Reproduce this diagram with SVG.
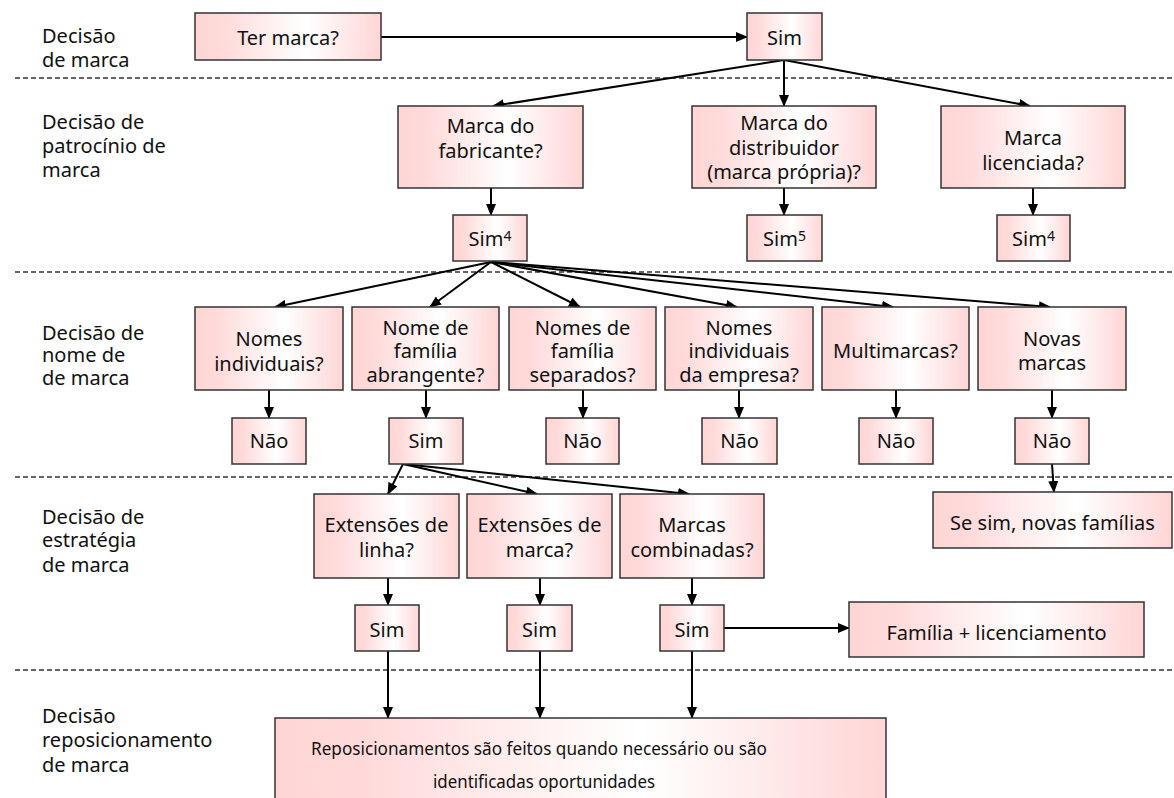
<svg xmlns="http://www.w3.org/2000/svg" width="1174" height="798" viewBox="0 0 1174 798">
<defs>
<linearGradient id="g" x1="0" y1="0" x2="1" y2="0">
<stop offset="0" stop-color="#FFD5D5"/>
<stop offset="0.15" stop-color="#FFDADA"/>
<stop offset="0.6" stop-color="#FFFFFF"/>
<stop offset="1" stop-color="#FFD5D5"/>
</linearGradient>
<marker id="a" markerWidth="12" markerHeight="10" refX="11" refY="5" orient="auto" markerUnits="userSpaceOnUse">
<path d="M0,0 L12,5 L0,10 Z" fill="#000"/>
</marker>
<style>
.b{fill:url(#g);stroke:#333;stroke-width:1.5}
.t{font-family:"Noto Sans","DejaVu Sans",sans-serif;font-size:20px;fill:#111;text-anchor:middle}
.l{font-family:"Noto Sans","DejaVu Sans",sans-serif;font-size:20px;fill:#111}
.r{font-size:17.3px}
.d{stroke:#333;stroke-width:1.5;stroke-dasharray:5 3;fill:none}
.c{stroke:#000;stroke-width:2;fill:none;marker-end:url(#a)}
.s{font-size:14px}
</style>
</defs>
<rect width="1174" height="798" fill="#fff"/>
<g id="separators">
<line class="d" x1="15" y1="78" x2="1174" y2="78"/>
<line class="d" x1="15" y1="272" x2="1174" y2="272"/>
<line class="d" x1="15" y1="477" x2="1174" y2="477"/>
<line class="d" x1="15" y1="670" x2="1174" y2="670"/>
</g>
<g id="labels">
<text class="l" x="42" y="43">Decisão</text>
<text class="l" x="42" y="67">de marca</text>
<text class="l" x="42" y="129">Decisão de</text>
<text class="l" x="42" y="153">patrocínio de</text>
<text class="l" x="42" y="177">marca</text>
<text class="l" x="42" y="340">Decisão de</text>
<text class="l" x="42" y="362">nome de</text>
<text class="l" x="42" y="385">de marca</text>
<text class="l" x="42" y="524">Decisão de</text>
<text class="l" x="42" y="547">estratégia</text>
<text class="l" x="42" y="572">de marca</text>
<text class="l" x="42" y="723">Decisão</text>
<text class="l" x="42" y="747">reposicionamento</text>
<text class="l" x="42" y="772">de marca</text>
</g>
<g id="connectors">
<line class="c" x1="381" y1="37" x2="747" y2="37"/>
<line class="c" x1="784" y1="60" x2="493" y2="106"/>
<line class="c" x1="784" y1="60" x2="784" y2="106"/>
<line class="c" x1="784" y1="60" x2="1030" y2="106"/>
<line class="c" x1="491" y1="188" x2="491" y2="215"/>
<line class="c" x1="784" y1="188" x2="784" y2="215"/>
<line class="c" x1="1033" y1="188" x2="1033" y2="215"/>
<line class="c" x1="491" y1="262" x2="275" y2="307"/>
<line class="c" x1="491" y1="262" x2="430" y2="307"/>
<line class="c" x1="491" y1="262" x2="580" y2="307"/>
<line class="c" x1="491" y1="262" x2="737" y2="307"/>
<line class="c" x1="491" y1="262" x2="893" y2="307"/>
<line class="c" x1="491" y1="262" x2="1050" y2="307"/>
<line class="c" x1="269" y1="390" x2="269" y2="418"/>
<line class="c" x1="426" y1="390" x2="426" y2="418"/>
<line class="c" x1="583" y1="390" x2="583" y2="418"/>
<line class="c" x1="739" y1="390" x2="739" y2="418"/>
<line class="c" x1="896" y1="390" x2="896" y2="418"/>
<line class="c" x1="1052" y1="390" x2="1052" y2="418"/>
<line class="c" x1="1052" y1="464" x2="1054" y2="492"/>
<line class="c" x1="403" y1="464" x2="388" y2="494"/>
<line class="c" x1="403" y1="464" x2="537" y2="494"/>
<line class="c" x1="403" y1="464" x2="689" y2="494"/>
<line class="c" x1="388" y1="578" x2="388" y2="605"/>
<line class="c" x1="540" y1="578" x2="540" y2="605"/>
<line class="c" x1="692" y1="578" x2="692" y2="605"/>
<line class="c" x1="724" y1="628" x2="849" y2="628"/>
<line class="c" x1="388" y1="651" x2="388" y2="718"/>
<line class="c" x1="540" y1="651" x2="540" y2="718"/>
<line class="c" x1="692" y1="651" x2="692" y2="718"/>
</g>
<g id="ter-marca"><rect class="b" x="195" y="13" width="186" height="47"/><text class="t" x="288" y="45">Ter marca?</text></g>
<g id="sim-top"><rect class="b" x="747" y="13" width="75" height="47"/><text class="t" x="784.5" y="45">Sim</text></g>
<g id="fabricante"><rect class="b" x="398" y="106" width="185" height="82"/><text class="t" x="490.5" y="133">Marca do</text><text class="t" x="490.5" y="158">fabricante?</text></g>
<g id="distribuidor"><rect class="b" x="692" y="106" width="184" height="82"/><text class="t" x="784" y="130">Marca do</text><text class="t" x="784" y="155">distribuidor</text><text class="t" x="784" y="179">(marca própria)?</text></g>
<g id="licenciada"><rect class="b" x="941" y="106" width="184" height="82"/><text class="t" x="1033" y="145">Marca</text><text class="t" x="1033" y="170">licenciada?</text></g>
<g id="sim-fabricante"><rect class="b" x="453" y="215" width="74" height="46"/><text class="t" x="490" y="246">Sim<tspan class="s" dy="-5">4</tspan></text></g>
<g id="sim-distribuidor"><rect class="b" x="747" y="215" width="75" height="46"/><text class="t" x="784.5" y="246">Sim<tspan class="s" dy="-5">5</tspan></text></g>
<g id="sim-licenciada"><rect class="b" x="997" y="215" width="73" height="46"/><text class="t" x="1033.5" y="246">Sim<tspan class="s" dy="-5">4</tspan></text></g>
<g id="nomes-individuais"><rect class="b" x="195" y="307" width="148" height="83"/><text class="t" x="269" y="346">Nomes</text><text class="t" x="269" y="371">individuais?</text></g>
<g id="nome-familia"><rect class="b" x="352" y="307" width="147" height="83"/><text class="t" x="425.5" y="335">Nome de</text><text class="t" x="425.5" y="358">família</text><text class="t" x="425.5" y="382">abrangente?</text></g>
<g id="nomes-familia-separados"><rect class="b" x="509" y="307" width="147" height="83"/><text class="t" x="582.5" y="335">Nomes de</text><text class="t" x="582.5" y="358">família</text><text class="t" x="582.5" y="382">separados?</text></g>
<g id="nomes-empresa"><rect class="b" x="665" y="307" width="148" height="83"/><text class="t" x="739" y="335">Nomes</text><text class="t" x="739" y="358">individuais</text><text class="t" x="739" y="382">da empresa?</text></g>
<g id="multimarcas"><rect class="b" x="822" y="307" width="147" height="83"/><text class="t" x="895.5" y="358">Multimarcas?</text></g>
<g id="novas-marcas"><rect class="b" x="978" y="307" width="148" height="83"/><text class="t" x="1052" y="346">Novas</text><text class="t" x="1052" y="370">marcas</text></g>
<g id="nao-1"><rect class="b" x="232" y="418" width="74" height="46"/><text class="t" x="269" y="448">Não</text></g>
<g id="sim-familia"><rect class="b" x="389" y="418" width="74" height="46"/><text class="t" x="426" y="448">Sim</text></g>
<g id="nao-3"><rect class="b" x="546" y="418" width="73" height="46"/><text class="t" x="582.5" y="448">Não</text></g>
<g id="nao-4"><rect class="b" x="702" y="418" width="75" height="46"/><text class="t" x="739.5" y="448">Não</text></g>
<g id="nao-5"><rect class="b" x="859" y="418" width="74" height="46"/><text class="t" x="896" y="448">Não</text></g>
<g id="nao-6"><rect class="b" x="1015" y="418" width="74" height="46"/><text class="t" x="1052" y="448">Não</text></g>
<g id="novas-familias"><rect class="b" x="933" y="492" width="239" height="56"/><text class="t" x="1052.5" y="530">Se sim, novas famílias</text></g>
<g id="ext-linha"><rect class="b" x="314" y="494" width="145" height="84"/><text class="t" x="386.5" y="532">Extensões de</text><text class="t" x="386.5" y="557">linha?</text></g>
<g id="ext-marca"><rect class="b" x="467" y="494" width="145" height="84"/><text class="t" x="539.5" y="532">Extensões de</text><text class="t" x="539.5" y="557">marca?</text></g>
<g id="marcas-combinadas"><rect class="b" x="620" y="494" width="144" height="84"/><text class="t" x="692" y="532">Marcas</text><text class="t" x="692" y="557">combinadas?</text></g>
<g id="sim-linha"><rect class="b" x="355" y="605" width="64" height="46"/><text class="t" x="387" y="637">Sim</text></g>
<g id="sim-marca"><rect class="b" x="507" y="605" width="65" height="46"/><text class="t" x="539.5" y="637">Sim</text></g>
<g id="sim-combinadas"><rect class="b" x="660" y="605" width="64" height="46"/><text class="t" x="692" y="637">Sim</text></g>
<g id="familia-licenciamento"><rect class="b" x="849" y="602" width="295" height="55"/><text class="t" x="996.5" y="640">Família + licenciamento</text></g>
<g id="reposicionamentos"><rect class="b" x="275" y="718" width="611" height="84"/><text class="t r" x="539" y="755" textLength="456" lengthAdjust="spacingAndGlyphs">Reposicionamentos são feitos quando necessário ou são</text><text class="t r" x="544" y="788" textLength="222" lengthAdjust="spacingAndGlyphs">identificadas oportunidades</text></g>
</svg>
